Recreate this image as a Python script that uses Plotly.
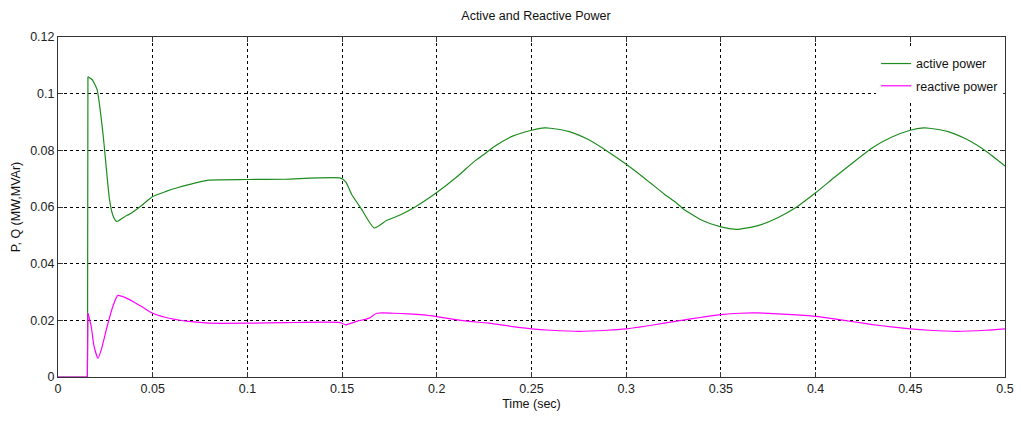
import plotly.graph_objects as go

# Active power samples (time s, MW)
t_active = [0.0, 0.0155, 0.0156, 0.0157, 0.0158, 0.018, 0.0206, 0.0237, 0.0272, 0.029, 0.031,
            0.035, 0.039, 0.045, 0.05, 0.057, 0.063, 0.069, 0.0795, 0.1, 0.12, 0.1492,
            0.152, 0.155, 0.16, 0.167, 0.1736, 0.18, 0.189, 0.2, 0.21, 0.22, 0.2257, 0.23,
            0.24, 0.25, 0.257, 0.26, 0.27, 0.28, 0.29, 0.30, 0.31, 0.32, 0.3273, 0.33, 0.34,
            0.35, 0.358, 0.36, 0.37, 0.38, 0.39, 0.40, 0.41, 0.42, 0.43, 0.44, 0.45, 0.457,
            0.46, 0.47, 0.48, 0.49, 0.50]
p_active = [0.0, 0.0, 0.011, 0.053, 0.106, 0.105, 0.1015, 0.0862, 0.0626, 0.057, 0.0549,
            0.0565, 0.058, 0.061, 0.0637, 0.0655, 0.0668, 0.0679, 0.0695, 0.0697, 0.0698, 0.0702,
            0.0688, 0.0645, 0.0595, 0.0526, 0.0553, 0.057, 0.0602, 0.0651, 0.0703, 0.0762, 0.0790, 0.0812,
            0.0850, 0.0871, 0.0879, 0.0878, 0.0866, 0.0838, 0.0797, 0.0751, 0.0700, 0.0646, 0.0610, 0.0594, 0.0553,
            0.0530, 0.0521, 0.0522, 0.0535, 0.0562, 0.0600, 0.0650, 0.0705, 0.0758, 0.0809, 0.0846, 0.0871, 0.0879,
            0.0878, 0.0866, 0.0838, 0.0797, 0.0745]
ACTIVE_JUMP = 4  # index of the sample at the top of the switch-on step

# Reactive power samples (time s, MVAr)
t_reactive = [0.0, 0.0155, 0.0158, 0.0175, 0.019, 0.0211, 0.023, 0.026, 0.029, 0.0316, 0.035,
              0.04, 0.045, 0.05, 0.057, 0.063, 0.069, 0.0795, 0.1, 0.12, 0.149, 0.1519, 0.158,
              0.164, 0.1684, 0.177, 0.185, 0.193, 0.2, 0.2138, 0.2276, 0.24, 0.25, 0.26, 0.2752,
              0.29, 0.30, 0.31, 0.32, 0.33, 0.34, 0.35, 0.36, 0.3686, 0.38, 0.39, 0.40, 0.41,
              0.42, 0.43, 0.44, 0.45, 0.46, 0.4746, 0.49, 0.50]
q_reactive = [0.0, 0.0, 0.0225, 0.018, 0.011, 0.0066, 0.010, 0.018, 0.025, 0.0288, 0.0282,
              0.0265, 0.0245, 0.0225, 0.021, 0.0202, 0.0196, 0.019, 0.019, 0.0192, 0.0192, 0.0184, 0.0197,
              0.0207, 0.0225, 0.0225, 0.0223, 0.0219, 0.0213, 0.0199, 0.019, 0.0178, 0.0170, 0.0165, 0.0161,
              0.0165, 0.0170, 0.0179, 0.0190, 0.0201, 0.0211, 0.0220, 0.0225, 0.0226, 0.0223, 0.0219, 0.0214, 0.0205,
              0.0195, 0.0185, 0.0177, 0.0170, 0.0165, 0.0161, 0.0165, 0.0170]
REACTIVE_JUMP = 2

x_ticks = [0, 0.05, 0.1, 0.15, 0.2, 0.25, 0.3, 0.35, 0.4, 0.45, 0.5]
x_labels = ["0", "0.05", "0.1", "0.15", "0.2", "0.25", "0.3", "0.35", "0.4", "0.45", "0.5"]
y_ticks = [0, 0.02, 0.04, 0.06, 0.08, 0.1, 0.12]
y_labels = ["0", "0.02", "0.04", "0.06", "0.08", "0.1", "0.12"]

FONT = "Liberation Sans, Arial, sans-serif"
GREEN = "#1e8c1e"
MAGENTA = "#ff00ff"

fig = go.Figure()
# straight step segments
fig.add_trace(go.Scatter(x=t_active[:ACTIVE_JUMP + 1], y=p_active[:ACTIVE_JUMP + 1], mode="lines",
                         legendgroup="a", showlegend=False, line=dict(color=GREEN, width=1.2)))
fig.add_trace(go.Scatter(x=t_reactive[:REACTIVE_JUMP + 1], y=q_reactive[:REACTIVE_JUMP + 1], mode="lines",
                         legendgroup="b", showlegend=False, line=dict(color=MAGENTA, width=1.2)))
# smooth responses
fig.add_trace(go.Scatter(x=t_active[ACTIVE_JUMP:], y=p_active[ACTIVE_JUMP:], mode="lines",
                         name="active power", legendgroup="a",
                         line=dict(color=GREEN, width=1.2, shape="spline", smoothing=0.55)))
fig.add_trace(go.Scatter(x=t_reactive[REACTIVE_JUMP:], y=q_reactive[REACTIVE_JUMP:], mode="lines",
                         name="reactive power", legendgroup="b",
                         line=dict(color=MAGENTA, width=1.2, shape="spline", smoothing=0.55)))

axis_common = dict(showline=True, linecolor="#333333", linewidth=1, mirror="ticks",
                   ticks="inside", ticklen=5, tickcolor="#333333",
                   showgrid=True, gridcolor="#000000", griddash="dot", gridwidth=1,
                   zeroline=False, tickfont=dict(family=FONT, size=12.5, color="#222222"))

fig.update_layout(
    width=1021, height=421,
    margin=dict(l=58, r=7, t=37, b=44),
    paper_bgcolor="white", plot_bgcolor="white",
    font=dict(family=FONT, size=12.5, color="#111111"),
    title=dict(text="Active and Reactive Power", x=(58 + 1014) / 2 / 1021, xanchor="center",
               y=1 - 16 / 421, yanchor="middle", font=dict(family=FONT, size=12.5, color="#111111")),
    xaxis=dict(range=[0, 0.5], tickvals=x_ticks, ticktext=x_labels, ticklabeloverflow="allow",
               title=dict(text="Time (sec)", standoff=4, font=dict(family=FONT, size=12.5)),
               **axis_common),
    yaxis=dict(range=[0, 0.12], tickvals=y_ticks, ticktext=y_labels,
               title=dict(text="P, Q (MW,MVAr)", standoff=6, font=dict(family=FONT, size=12.5)),
               **axis_common),
    legend=dict(x=0.998, y=0.965, xanchor="right", yanchor="top",
                bgcolor="white", bordercolor="white", borderwidth=0,
                traceorder="grouped",
                font=dict(family=FONT, size=12.5, color="#111111"), tracegroupgap=3),
    showlegend=True,
)

fig.write_html("out.html")
